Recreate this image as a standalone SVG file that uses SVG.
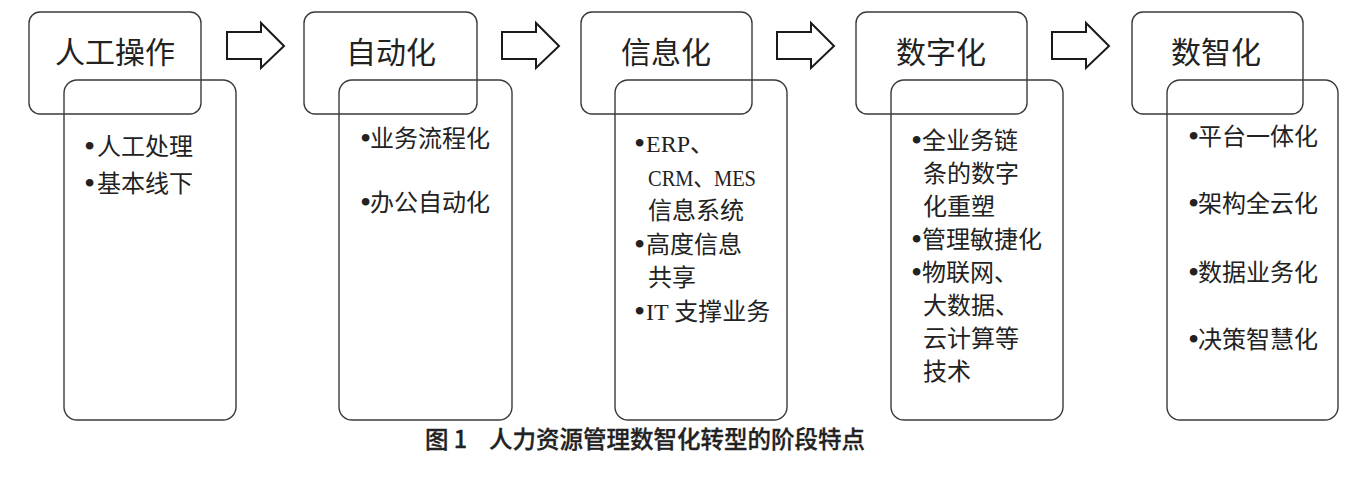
<svg xmlns="http://www.w3.org/2000/svg" width="1363" height="478" viewBox="0 0 1363 478">
<defs>
<style>
.box{fill:none;stroke:#3a3a3a;stroke-width:1.4}
.arr{fill:#fff;stroke:#1a1a1a;stroke-width:2;stroke-linejoin:miter}
.hd{font-family:"Liberation Serif","Noto Sans CJK SC",serif;font-size:30px;fill:#222;text-anchor:middle}
.bd{font-family:"Liberation Serif","Noto Sans CJK SC",serif;font-size:24px;fill:#222}
.b{font-family:"Liberation Serif",serif;font-size:32px}
.cap{font-family:"Noto Sans CJK SC",sans-serif;font-size:23.5px;font-weight:500;fill:#222;stroke:#222;stroke-width:0.3}
</style>
<path id="arrow" d="M0,9 H34 V0 L57,23 L34,45 V36 H0 Z"/>
</defs>
<rect width="1363" height="478" fill="#fff"/>
<g id="connectors">
<use href="#arrow" class="arr" x="227" y="23"/>
<use href="#arrow" class="arr" x="502" y="23"/>
<use href="#arrow" class="arr" x="777" y="23"/>
<use href="#arrow" class="arr" x="1052" y="23"/>
</g>
<g id="node1">
<rect class="box" x="29" y="12" width="172" height="102" rx="11"/>
<rect class="box" x="64" y="80" width="172" height="340" rx="13"/>
<text class="hd" x="115" y="63">人工操作</text>
<text class="bd" x="84" y="155"><tspan class="b" dy="2">•</tspan><tspan x="97" dy="-2">人工处理</tspan></text>
<text class="bd" x="84" y="192"><tspan class="b" dy="2">•</tspan><tspan x="97" dy="-2">基本线下</tspan></text>
</g>
<g id="node2">
<rect class="box" x="304" y="12" width="173" height="102" rx="11"/>
<rect class="box" x="339" y="80" width="173" height="340" rx="13"/>
<text class="hd" x="391" y="63">自动化</text>
<text class="bd" x="360" y="147"><tspan class="b" dy="2">•</tspan><tspan x="370" dy="-2">业务流程化</tspan></text>
<text class="bd" x="360" y="211"><tspan class="b" dy="2">•</tspan><tspan x="370" dy="-2">办公自动化</tspan></text>
</g>
<g id="node3">
<rect class="box" x="581" y="12" width="171" height="102" rx="11"/>
<rect class="box" x="615" y="80" width="172" height="340" rx="13"/>
<text class="hd" x="666" y="63">信息化</text>
<text class="bd" x="634" y="152"><tspan class="b" dy="2">•</tspan><tspan x="646" dy="-2">ERP、</tspan></text>
<text class="bd" x="648" y="186" textLength="108" lengthAdjust="spacingAndGlyphs">CRM、MES</text>
<text class="bd" x="648" y="219">信息系统</text>
<text class="bd" x="634" y="253"><tspan class="b" dy="2">•</tspan><tspan x="646" dy="-2">高度信息</tspan></text>
<text class="bd" x="648" y="286">共享</text>
<text class="bd" x="634" y="320"><tspan class="b" dy="2">•</tspan><tspan x="646" dy="-2">IT 支撑业务</tspan></text>
</g>
<g id="node4">
<rect class="box" x="856" y="12" width="171" height="102" rx="11"/>
<rect class="box" x="891" y="80" width="172" height="340" rx="13"/>
<text class="hd" x="941" y="63">数字化</text>
<text class="bd" x="911" y="149"><tspan class="b" dy="2">•</tspan><tspan x="922" dy="-2">全业务链</tspan></text>
<text class="bd" x="923" y="182">条的数字</text>
<text class="bd" x="923" y="215">化重塑</text>
<text class="bd" x="911" y="248"><tspan class="b" dy="2">•</tspan><tspan x="922" dy="-2">管理敏捷化</tspan></text>
<text class="bd" x="911" y="281"><tspan class="b" dy="2">•</tspan><tspan x="922" dy="-2">物联网、</tspan></text>
<text class="bd" x="923" y="314">大数据、</text>
<text class="bd" x="923" y="347">云计算等</text>
<text class="bd" x="923" y="380">技术</text>
</g>
<g id="node5">
<rect class="box" x="1132" y="12" width="171" height="102" rx="11"/>
<rect class="box" x="1167" y="80" width="171" height="340" rx="13"/>
<text class="hd" x="1216" y="63">数智化</text>
<text class="bd" x="1188" y="145"><tspan class="b" dy="2">•</tspan><tspan x="1198" dy="-2">平台一体化</tspan></text>
<text class="bd" x="1188" y="212"><tspan class="b" dy="2">•</tspan><tspan x="1198" dy="-2">架构全云化</tspan></text>
<text class="bd" x="1188" y="281"><tspan class="b" dy="2">•</tspan><tspan x="1198" dy="-2">数据业务化</tspan></text>
<text class="bd" x="1188" y="348"><tspan class="b" dy="2">•</tspan><tspan x="1198" dy="-2">决策智慧化</tspan></text>
</g>
<g id="caption">
<text class="cap" y="448"><tspan x="425">图 1</tspan><tspan x="489">人力资源管理数智化转型的阶段特点</tspan></text>
</g>
</svg>
